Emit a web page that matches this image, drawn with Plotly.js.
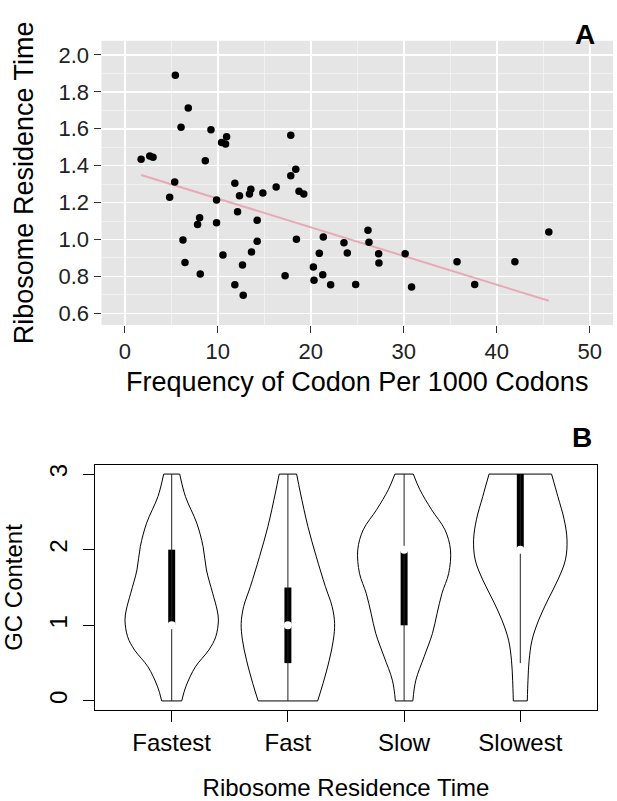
<!DOCTYPE html>
<html><head><meta charset="utf-8">
<script src="https://cdn.plot.ly/plotly-3.0.1.min.js"></script>
<style>html,body{margin:0;padding:0;background:#fff}</style>
</head><body><div id="chart" style="width:617px;height:801px"></div>
<script>
// ---- Panel A data ----
const freq = [1.76,2.69,3.04,5.44,6.83,6.05,9.27,10.95,10.41,10.84,8.66,17.85,5.37,4.83,9.87,11.84,12.34,13.56,13.41,14.85,16.28,18.39,17.85,18.74,19.25,12.13,8.05,7.83,9.87,14.24,6.26,14.24,18.46,21.35,23.57,23.93,20.92,10.56,13.63,6.48,20.28,12.66,8.12,17.24,20.35,21.29,22.14,11.84,12.74,26.15,26.26,27.3,27.33,30.15,35.73,41.95,45.6,24.83,30.84,37.63];
const residence = [1.435,1.453,1.445,1.89,1.713,1.608,1.594,1.557,1.525,1.518,1.427,1.565,1.312,1.229,1.214,1.305,1.237,1.272,1.247,1.252,1.285,1.380,1.346,1.261,1.247,1.151,1.118,1.082,1.091,1.104,0.997,0.990,1.001,1.014,0.983,0.927,0.925,0.916,0.932,0.876,0.851,0.862,0.813,0.804,0.779,0.809,0.755,0.755,0.698,1.050,0.985,0.923,0.873,0.923,0.880,0.880,1.041,0.757,0.743,0.757];
const xTicksA = [0,10,20,30,40,50];
const yTicksA = [0.6,0.8,1.0,1.2,1.4,1.6,1.8,2.0];

// ---- Panel B data ----
const categories = ['Fastest','Fast','Slow','Slowest'];
const densityY = [
  [0,0.186,0.451,0.672,0.848,1.069,1.202,1.423,1.732,2.042,2.351,2.704,3.0],
  [0,0.230,0.539,0.804,1.025,1.246,1.511,1.909,2.307,2.749,3.0],
  [0,0.274,0.583,0.893,1.158,1.423,1.688,1.997,2.262,2.528,2.793,3.0],
  [0,0.274,0.539,0.804,1.069,1.335,1.600,1.865,2.130,2.395,2.704,3.0]
];
const densityHalfWidth = [
  [0.086,0.121,0.204,0.319,0.379,0.402,0.391,0.353,0.299,0.270,0.216,0.118,0.069],
  [0.256,0.302,0.356,0.391,0.402,0.381,0.323,0.244,0.172,0.108,0.075],
  [0.075,0.101,0.172,0.244,0.284,0.326,0.384,0.399,0.352,0.237,0.136,0.079],
  [0.060,0.066,0.076,0.101,0.158,0.237,0.323,0.388,0.402,0.378,0.323,0.269]
];
const q1 = [1,0.5,1,2];
const median = [1,1,2,2];
const q3 = [2,1.5,2,3];
const whiskerLow = [0,0,0,0.5];
const whiskerHigh = [3,3,3,3];
const yTicksB = [0,1,2,3];

// ---- Build ----
const FONT = 'Liberation Sans, Arial, Helvetica, sans-serif';
const traces = [];

// regression fit (least squares)
const n = freq.length;
const mx = freq.reduce((a,b)=>a+b,0)/n;
const my = residence.reduce((a,b)=>a+b,0)/n;
let sxy=0, sxx=0;
for(let i=0;i<n;i++){ sxy += (freq[i]-mx)*(residence[i]-my); sxx += (freq[i]-mx)**2; }
const slope = sxy/sxx, intercept = my - slope*mx;
const xmin = Math.min(...freq), xmax = Math.max(...freq);
traces.push({type:'scatter', mode:'lines', x:[xmin,xmax], y:[intercept+slope*xmin, intercept+slope*xmax],
  line:{color:'#E8A9B7', width:2}, xaxis:'x', yaxis:'y', hoverinfo:'skip'});
traces.push({type:'scatter', mode:'markers', x:freq, y:residence,
  marker:{color:'#000', size:7.5}, xaxis:'x', yaxis:'y'});

// violins
const pos = categories.map((c,i)=>i+1);
categories.forEach((c,i)=>{
  const yv = densityY[i], w = densityHalfWidth[i], p = pos[i];
  traces.push({type:'scatter', mode:'lines', x:yv.map((y,k)=>p-w[k]), y:yv,
    line:{color:'#000', width:1, shape:'spline', smoothing:1}, xaxis:'x2', yaxis:'y2', hoverinfo:'skip'});
  traces.push({type:'scatter', mode:'lines', x:yv.map((y,k)=>p+w[k]), y:yv,
    line:{color:'#000', width:1, shape:'spline', smoothing:1}, xaxis:'x2', yaxis:'y2', hoverinfo:'skip'});
  const L = yv.length-1;
  traces.push({type:'scatter', mode:'lines', x:[p-w[0],p+w[0],null,p-w[L],p+w[L]], y:[yv[0],yv[0],null,yv[L],yv[L]],
    line:{color:'#000', width:1}, xaxis:'x2', yaxis:'y2', hoverinfo:'skip'});
  traces.push({type:'scatter', mode:'lines', x:[p,p], y:[whiskerLow[i], whiskerHigh[i]],
    line:{color:'#222', width:1}, xaxis:'x2', yaxis:'y2', hoverinfo:'skip'});
});
traces.push({type:'bar', x:pos, y:q3.map((v,i)=>v-q1[i]), base:q1, width:0.06,
  marker:{color:'#000', line:{width:0}}, xaxis:'x2', yaxis:'y2', hoverinfo:'skip'});
traces.push({type:'scatter', mode:'markers', x:pos, y:median,
  marker:{color:'#fff', size:8, line:{width:0}}, xaxis:'x2', yaxis:'y2', hoverinfo:'skip'});

const W=617, H=801;
const layout = {
  width:W, height:H, margin:{l:0,r:0,t:0,b:0}, showlegend:false,
  paper_bgcolor:'#fff', plot_bgcolor:'#fff',
  font:{family:FONT, color:'#000'},
  xaxis:{domain:[101.5/W, 613/W], anchor:'y', range:[-2.5,52.5], tickvals:xTicksA,
    ticks:'outside', ticklen:7, tickwidth:1, tickcolor:'#333', showline:false, zeroline:false,
    showgrid:true, gridcolor:'#fff', gridwidth:1.6,
    minor:{dtick:5, tick0:0, showgrid:true, gridcolor:'#F4F4F4', gridwidth:0.8, ticks:''},
    tickfont:{size:22, color:'#222'},
    title:{text:'Frequency of Codon Per 1000 Codons', font:{size:27}, standoff:8}},
  yaxis:{domain:[1-325/H, 1-40.7/H], anchor:'x', range:[0.537,2.077], tickvals:yTicksA, tickformat:'.1f',
    ticks:'outside', ticklen:7, tickwidth:1, tickcolor:'#333', showline:false, zeroline:false,
    showgrid:true, gridcolor:'#fff', gridwidth:1.6,
    minor:{dtick:0.1, tick0:0.6, showgrid:true, gridcolor:'#F4F4F4', gridwidth:0.8, ticks:''},
    tickfont:{size:22, color:'#222'},
    title:{text:'Ribosome Residence Time', font:{size:27}, standoff:17}},
  xaxis2:{domain:[95/W, 597/W], anchor:'y2', range:[0.34,4.66], tickvals:pos, ticktext:categories,
    ticks:'outside', ticklen:11, tickwidth:1, tickcolor:'#000', showline:true, mirror:true, linecolor:'#000', linewidth:1,
    showgrid:false, zeroline:false, tickfont:{size:24},
    title:{text:'Ribosome Residence Time', font:{size:24}, standoff:25}},
  yaxis2:{domain:[1-710/H, 1-465/H], anchor:'x2', range:[-0.12,3.12], tickvals:yTicksB, tickangle:-90,
    ticks:'outside', ticklen:11, tickwidth:1, tickcolor:'#000', showline:true, mirror:true, linecolor:'#000', linewidth:1,
    showgrid:false, zeroline:false, tickfont:{size:24}, ticklabelstandoff:6,
    title:{text:'GC Content', font:{size:24}, standoff:20}},
  shapes:[{type:'rect', xref:'x domain', yref:'y domain', x0:0, x1:1, y0:0, y1:1,
    fillcolor:'#E5E5E5', line:{width:0}, layer:'below'}],
  annotations:[
    {text:'<b>A</b>', xref:'paper', yref:'paper', x:597/W, y:1-17/H, showarrow:false, font:{size:28, family:FONT}},
    {text:'<b>B</b>', xref:'paper', yref:'paper', x:594/W, y:1-437/H, showarrow:false, font:{size:28, family:FONT}}
  ]
};
Plotly.newPlot('chart', traces, layout, {displayModeBar:false, staticPlot:true});
</script></body></html>
